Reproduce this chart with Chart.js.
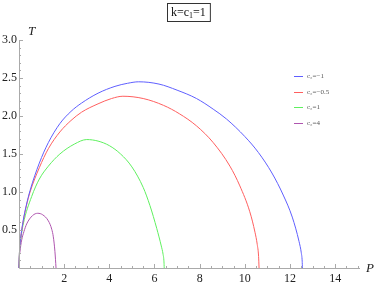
<!DOCTYPE html>
<html>
<head>
<meta charset="utf-8">
<script src="https://cdn.jsdelivr.net/npm/chart.js@4"></script>
<style>
  html, body { margin: 0; padding: 0; background: #fff; }
</style>
</head>
<body>
<canvas id="c" width="374" height="286"></canvas>
<script>
// curve readings (P, T) for each c2
const labels = ["c\u2082=\u22121", "c\u2082=\u22120.5", "c\u2082=1", "c\u2082=4"];
const colors = ["rgb(95,95,255)", "rgb(255,95,95)", "rgb(95,240,95)", "rgb(175,85,175)"];
const xTicks = [2, 4, 6, 8, 10, 12, 14];
const yTicks = [0.5, 1.0, 1.5, 2.0, 2.5, 3.0];

const pBlue = [0, 0.02, 0.07, 0.19, 0.32, 0.49, 0.9, 1.3, 1.81, 2.3, 2.77, 3.5, 4.25, 4.8, 5.3, 6.2, 7.0, 7.86, 8.6, 9.19, 10.0, 10.6, 11.2, 11.7, 12.1, 12.4, 12.5, 12.54, 12.55];
const tBlue = [0, 0.2, 0.38, 0.63, 0.82, 1.02, 1.38, 1.65, 1.90, 2.06, 2.17, 2.30, 2.39, 2.43, 2.45, 2.42, 2.34, 2.23, 2.09, 1.96, 1.73, 1.52, 1.25, 0.96, 0.67, 0.35, 0.2, 0.09, 0];

const pRed = [0, 0.02, 0.07, 0.19, 0.32, 0.49, 0.9, 1.3, 1.81, 2.3, 2.77, 3.5, 4.1, 4.6, 5.5, 6.4, 7.1, 7.86, 8.6, 9.34, 9.78, 10.22, 10.45, 10.55, 10.61, 10.63];
const tRed = [0, 0.2, 0.38, 0.62, 0.81, 1.0, 1.32, 1.57, 1.79, 1.94, 2.05, 2.16, 2.23, 2.26, 2.23, 2.14, 2.03, 1.87, 1.65, 1.34, 1.08, 0.74, 0.47, 0.31, 0.15, 0];

const pGreen = [0, 0.02, 0.07, 0.19, 0.56, 0.9, 1.3, 1.81, 2.45, 3.0, 3.5, 4.0, 4.5, 5.0, 5.5, 5.8, 6.1, 6.3, 6.38, 6.42, 6.43];
const tGreen = [0, 0.2, 0.36, 0.58, 0.94, 1.17, 1.34, 1.50, 1.63, 1.69, 1.67, 1.61, 1.50, 1.33, 1.06, 0.82, 0.52, 0.29, 0.18, 0.08, 0];

const pPurple = [0, 0.01, 0.04, 0.12, 0.22, 0.34, 0.6, 0.83, 1.05, 1.3, 1.45, 1.52, 1.59, 1.64];
const tPurple = [0, 0.11, 0.21, 0.37, 0.48, 0.58, 0.69, 0.72, 0.70, 0.62, 0.51, 0.41, 0.22, 0];

const curves = [[pBlue, tBlue], [pRed, tRed], [pGreen, tGreen], [pPurple, tPurple]];

function toPoints(ps, ts) {
    return ps.map((p, i) => ({ x: p, y: ts[i] }));
}

const serif = "'Liberation Serif', 'DejaVu Serif', serif";

// axes, inside ticks, title box, axis names, legend
const decor = {
    id: "decor",
    afterDraw(chart) {
        const ctx = chart.ctx;
        const xs = chart.scales.x, ys = chart.scales.y;
        const a = chart.chartArea;
        ctx.save();
        ctx.strokeStyle = "#aaa";
        ctx.lineWidth = 1;
        ctx.beginPath();
        ctx.moveTo(a.left + 0.5, a.top);
        ctx.lineTo(a.left + 0.5, a.bottom + 0.5);
        ctx.lineTo(a.right, a.bottom + 0.5);
        ctx.stroke();

        ctx.beginPath();
        for (let k = 1; k <= 30; k++) {
            const v = k * 0.5;
            const px = Math.round(xs.getPixelForValue(v)) + 0.5;
            const len = (k % 4 === 0) ? 4 : 2;
            ctx.moveTo(px, a.bottom);
            ctx.lineTo(px, a.bottom - len);
        }
        for (let k = 1; k <= 30; k++) {
            const v = k * 0.1;
            const py = Math.round(ys.getPixelForValue(v)) + 0.5;
            const len = (k % 5 === 0) ? 4 : 2;
            ctx.moveTo(a.left, py);
            ctx.lineTo(a.left + len, py);
        }
        ctx.stroke();

        // axis names
        ctx.fillStyle = "#222";
        ctx.font = "italic 13px " + serif;
        ctx.textBaseline = "middle";
        ctx.textAlign = "left";
        ctx.fillText("T", 28, 32);
        ctx.fillText("P", 366, 269);

        // title box
        ctx.font = "12px " + serif;
        ctx.fillStyle = "#111";
        const tx = 171, ty = 13;
        ctx.fillText("k=c", tx, ty);
        let w = ctx.measureText("k=c").width;
        ctx.font = "8px " + serif;
        ctx.fillText("1", tx + w, ty + 3);
        w += ctx.measureText("1").width;
        ctx.font = "12px " + serif;
        ctx.fillText("=1", tx + w, ty);
        w += ctx.measureText("=1").width;
        ctx.strokeStyle = "#333";
        ctx.strokeRect(167.5, 3.5, w + 8, 18);

        // legend
        const rows = [76, 92, 107, 123];
        ctx.font = "7px " + serif;
        rows.forEach((y, i) => {
            ctx.strokeStyle = colors[i];
            ctx.beginPath();
            ctx.moveTo(294, y + 0.5);
            ctx.lineTo(303, y + 0.5);
            ctx.stroke();
            ctx.fillStyle = "#555";
            ctx.fillText(labels[i], 307, y);
        });
        ctx.restore();
    }
};

new Chart(document.getElementById("c"), {
    type: "scatter",
    data: {
        datasets: curves.map((c, i) => ({
            label: labels[i],
            data: toPoints(c[0], c[1]),
            showLine: true,
            borderColor: colors[i],
            borderWidth: 1,
            pointRadius: 0,
            cubicInterpolationMode: "monotone",
            clip: false
        }))
    },
    options: {
        responsive: false,
        animation: false,
        layout: { padding: { top: 40, right: 14, left: 0, bottom: 0 } },
        plugins: { legend: { display: false }, tooltip: { enabled: false } },
        scales: {
            x: {
                type: "linear",
                min: 0,
                max: 15.1,
                grid: { display: false, drawTicks: false },
                border: { display: false },
                afterFit(s) { s.height = 18; },
                afterBuildTicks(s) { s.ticks = xTicks.map(v => ({ value: v })); },
                ticks: {
                    padding: 4,
                    color: "#222",
                    font: { family: serif, size: 12 },
                    maxRotation: 0,
                    autoSkip: false,
                    callback: v => String(v)
                }
            },
            y: {
                type: "linear",
                min: 0,
                max: 3,
                grid: { display: false, drawTicks: false },
                border: { display: false },
                afterFit(s) { s.width = 19; },
                afterBuildTicks(s) { s.ticks = yTicks.map(v => ({ value: v })); },
                ticks: {
                    padding: 2,
                    color: "#222",
                    font: { family: serif, size: 12 },
                    callback: v => v.toFixed(1)
                }
            }
        }
    },
    plugins: [decor]
});
</script>
</body>
</html>
